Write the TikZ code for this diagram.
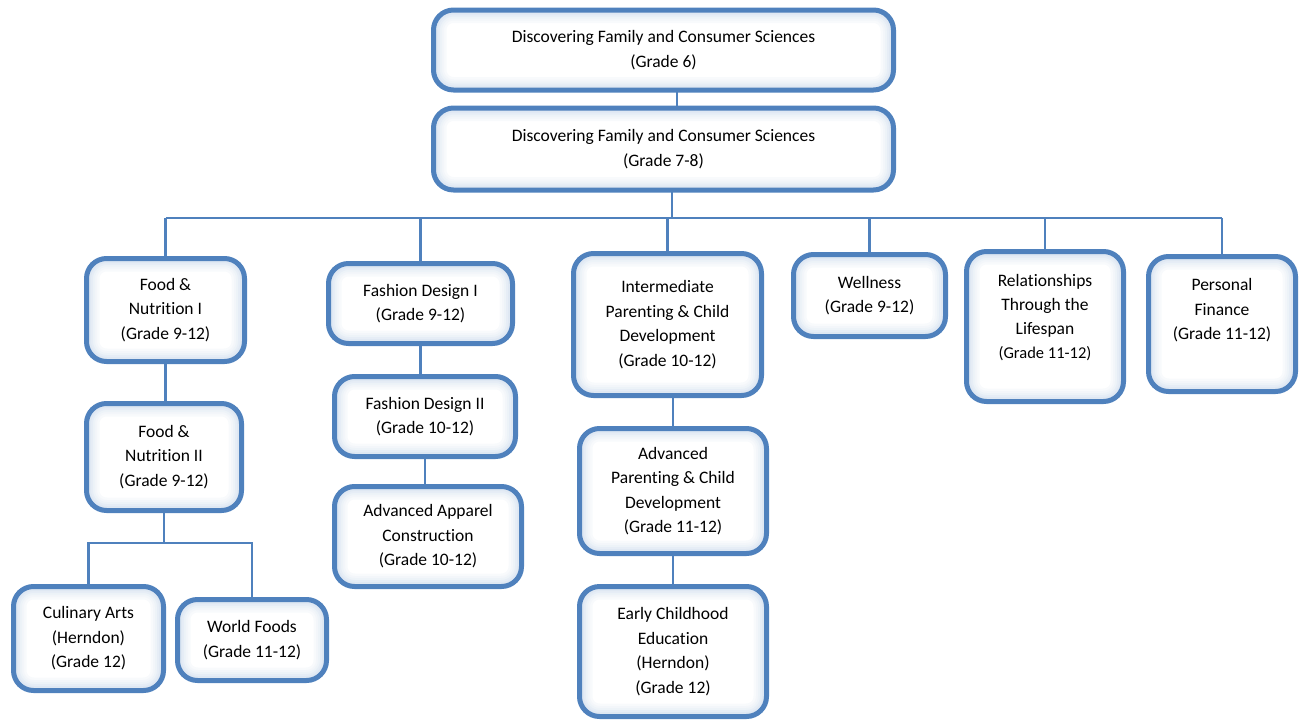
\documentclass[tikz,border=0pt]{standalone}
\usepackage{fontspec}
\setmainfont{Carlito}[Ligatures=NoCommon]
\usetikzlibrary{backgrounds}

\definecolor{boxblue}{RGB}{79,129,189}

\tikzset{
  course/.style={draw=boxblue, line width=5pt, rounded corners=20pt, align=center,
    outer sep=0pt, inner sep=0pt, font=\fontsize{17.5}{24.5}\selectfont},
  boxsize/.style 2 args={minimum width=#1pt, minimum height=#2pt},
  link/.style={draw=boxblue, line width=2.5pt},
}

\begin{document}
\begin{tikzpicture}[x=1pt,y=-1pt]
\useasboundingbox (0,0) rectangle (1299,721);

% middle school
\node[course, boxsize={460}{80}] (g6) at (663.5,50) {Discovering Family and Consumer Sciences\\(Grade 6)};
\node[course, boxsize={460}{82}] (g78) at (663.5,149) {Discovering Family and Consumer Sciences\\(Grade 7-8)};

% food column
\node[course, boxsize={158}{103}] (food1) at (165.5,310) {Food \&\\Nutrition I\\(Grade 9-12)};
\node[course, boxsize={155}{107}] (food2) at (164,457) {Food \&\\Nutrition II\\(Grade 9-12)};
\node[course, boxsize={150}{104}] (cul) at (88.5,638.5) {Culinary Arts\\(Herndon)\\(Grade 12)};
\node[course, boxsize={149}{81}] (world) at (252,640) {World Foods\\(Grade 11-12)};

% fashion column
\node[course, boxsize={184}{80}] (fash1) at (420.5,303.5) {Fashion Design I\\(Grade 9-12)};
\node[course, boxsize={181}{80}] (fash2) at (425,416.5) {Fashion Design II\\(Grade 10-12)};
\node[course, boxsize={187}{100}] (appar) at (428,536.5) {Advanced Apparel\\Construction\\(Grade 10-12)};

% parenting column
\node[course, boxsize={188}{142}] (inter) at (667.5,324.5) {Intermediate\\Parenting \& Child\\Development\\(Grade 10-12)};
\node[course, boxsize={187}{125}] (advpar) at (673,491) {Advanced\\Parenting \& Child\\Development\\(Grade 11-12)};
\node[course, boxsize={187}{130}] (early) at (673,651.5) {Early Childhood\\Education\\(Herndon)\\(Grade 12)};

% single courses
\node[course, boxsize={157}{150}, text depth=20pt, font=\fontsize{17.5}{24}\selectfont] (rel) at (1045,326.5)
  {Relationships\\Through the\\Lifespan\\{\fontsize{16.5}{24}\selectfont(Grade 11-12)}};
\node[course, boxsize={147}{135}, text depth=30pt] (pers) at (1222,324) {Personal\\Finance\\(Grade 11-12)};
\node[course, boxsize={152}{82}] (well) at (869.5,295.5) {Wellness\\(Grade 9-12)};

% soft inner glow
\begin{scope}[on background layer]
\foreach \n in {g6,g78,food1,food2,cul,world,fash1,fash2,appar,inter,advpar,early,well,rel,pers} {
  \begin{scope}
    \clip[rounded corners=20pt] (\n.north west) rectangle (\n.south east);
    \foreach \w/\c in {26/4,21/7,17/10,13/14,9/18}
      \draw[boxblue!\c, line width=\w pt, rounded corners=20pt] (\n.north west) rectangle (\n.south east);
  \end{scope}
}
\end{scope}

% connectors
\coordinate (toplink) at (677,0);
\coordinate (spine) at (672,218);
\coordinate (foodbus) at (166,543);

\draw[link] (g6.south -| toplink) -- (g78.north -| toplink);
\draw[link] (g78.south -| spine) -- (spine);
\draw[link] (food1.north |- spine) -- (pers.north |- spine);
\foreach \n in {food1,fash1,inter,well,rel,pers}
  \draw[link] (\n.north) -- (\n.north |- spine);

\draw[link] (food1.south) -- (food1.south |- food2.north);
\draw[link] (food2.south) -- (food2.south |- foodbus);
\draw[link] (cul.north) |- (world.north |- foodbus) -- (world.north);

\draw[link] (fash1.south) -- (fash1.south |- fash2.north);
\draw[link] (fash2.south) -- (fash2.south |- appar.north);

\draw[link] (advpar.north) -- (advpar.north |- inter.south);
\draw[link] (advpar.south) -- (early.north);
\end{tikzpicture}
\end{document}
